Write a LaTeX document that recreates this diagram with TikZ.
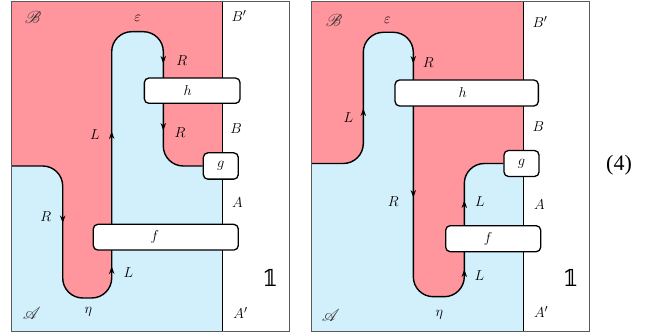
\documentclass[tikz,border=0pt]{standalone}
\usepackage{mathrsfs}
\usepackage{fontspec}
\newfontfamily\eqfont{Liberation Serif}
\newfontfamily\dvserif{DejaVu Serif}
\usetikzlibrary{arrows.meta,backgrounds}
\definecolor{pinkreg}{RGB}{255,150,158}
\definecolor{bluereg}{RGB}{210,240,252}
\definecolor{framegray}{RGB}{90,90,90}
\begin{document}
\begin{tikzpicture}[x=1pt,y=-1pt,
  wire/.style={line width=1.4pt, black},
  boxnode/.style={draw, fill=white, line width=1.3pt, rounded corners=4.5pt, inner sep=0pt},
  lbl/.style={font=\fontsize{15.5}{17}\selectfont, inner sep=0pt},
  scr/.style={font=\fontsize{17}{19}\selectfont, inner sep=0pt, text=black!80},
  unit/.style={font=\dvserif\fontsize{23}{25}\selectfont, inner sep=0pt},
  tipmark/.style={wire, -{Stealth[length=7.5pt,width=5.5pt]}},
  frame/.style={draw=framegray, line width=0.8pt},
  rc/.style={rounded corners=20pt}
]
\useasboundingbox (0,0) rectangle (672,336);

% ---------------- left diagram: boxes ----------------
\node[boxnode, minimum width=95.7pt, minimum height=25.3pt,
      label={[lbl,xshift=-4.5pt]center:$h$}] (h1) at (192.2,90.7) {};
\node[boxnode, minimum width=35pt, minimum height=26.3pt,
      label={[lbl]center:$g$}] (g1) at (220.8,166) {};
\node[boxnode, minimum width=145pt, minimum height=25.7pt,
      label={[lbl,xshift=-11pt]center:$f$}] (f1) at (165.8,237.2) {};

\coordinate (t1) at (222.7,1.5);
\coordinate (b1) at (222.7,331);

\begin{scope}[on background layer]
  \fill[bluereg] (11.7,1.5) rectangle (b1);
  \begin{scope}
    \clip (11.7,1.5) rectangle (b1);
    \fill[pinkreg, rc] (-40,-40) -- (260,-40) -- (260,166) -- (g1.west) -- (163.3,166)
       -- (163.3,31.7) -- (111.7,31.7) -- (111.7,298) -- (62.7,298) -- (62.7,166)
       -- (-40,166) -- cycle;
  \end{scope}
  \draw[wire] (t1) -- (b1);
  \draw[wire, rc] (g1.west) -- (163.3,166) -- (163.3,31.7) -- (111.7,31.7)
     -- (111.7,298) -- (62.7,298) -- (62.7,166) -- (11.7,166);
  \draw[tipmark] (62.7,214) -- (62.7,223);
  \draw[tipmark] (111.7,141) -- (111.7,131.5);
  \draw[tipmark] (111.7,276) -- (111.7,266.5);
  \draw[tipmark] (163.3,54) -- (163.3,63.5);
  \draw[tipmark] (163.3,121) -- (163.3,130.5);
  \draw[frame] (11.7,1.5) rectangle (289,331);
\end{scope}

\node[scr] (lB1) at (33,17) {$\mathscr{B}$};
\node[scr] (lA1) at (31.7,313) {$\mathscr{A}$};
\node[lbl] (leps1) at (137.7,18) {$\varepsilon$};
\node[lbl] (leta1) at (88.3,312) {$\eta$};
\node[lbl] (lR1a) at (181.7,60.7) {$R$};
\node[lbl] (lR1b) at (180,133) {$R$};
\node[lbl] (lR1c) at (45.7,216.7) {$R$};
\node[lbl] (lL1a) at (95,135) {$L$};
\node[lbl] (lL1b) at (128.3,272.7) {$L$};
\node[lbl] (lBp1) at (239,16) {$B'$};
\node[lbl] (lBb1) at (236,129) {$B$};
\node[lbl] (lAa1) at (237.3,202.7) {$A$};
\node[lbl] (lAp1) at (240.5,313) {$A'$};
\node[unit] (one1) at (270,278) {𝟙};

% ---------------- right diagram: boxes ----------------
\node[boxnode, minimum width=143.3pt, minimum height=26pt,
      label={[lbl,xshift=-4pt]center:$h$}] (h2) at (466.7,93) {};
\node[boxnode, minimum width=35pt, minimum height=26pt,
      label={[lbl]center:$g$}] (g2) at (521.5,163.5) {};
\node[boxnode, minimum width=95pt, minimum height=26pt,
      label={[lbl,xshift=-5pt]center:$f$}] (f2) at (493.2,238.7) {};

\coordinate (t2) at (523.3,1.5);
\coordinate (b2) at (523.3,331);

\begin{scope}[on background layer]
  \fill[bluereg] (311.7,1.5) rectangle (b2);
  \begin{scope}
    \clip (311.7,1.5) rectangle (b2);
    \fill[pinkreg, rc] (270,-40) -- (560,-40) -- (560,163.5) -- (g2.west) -- (464.3,163.5)
       -- (464.3,296.7) -- (413.3,296.7) -- (413.3,32.3) -- (363.3,32.3) -- (363.3,163.5)
       -- (270,163.5) -- cycle;
  \end{scope}
  \draw[wire] (t2) -- (b2);
  \draw[wire, rc] (g2.west) -- (464.3,163.5) -- (464.3,296.7) -- (413.3,296.7)
     -- (413.3,32.3) -- (363.3,32.3) -- (363.3,163.5) -- (311.7,163.5);
  \draw[tipmark] (363.3,118) -- (363.3,108.5);
  \draw[tipmark] (413.3,54) -- (413.3,63.5);
  \draw[tipmark] (413.3,188) -- (413.3,197.5);
  \draw[tipmark] (464.3,210) -- (464.3,200.5);
  \draw[tipmark] (464.3,279) -- (464.3,269.5);
  \draw[frame] (311.7,1.5) rectangle (589.3,331);
\end{scope}

\node[scr] (lB2) at (334,20) {$\mathscr{B}$};
\node[scr] (lA2) at (330.7,315.7) {$\mathscr{A}$};
\node[lbl] (leps2) at (387.3,20.7) {$\varepsilon$};
\node[lbl] (leta2) at (439.3,315) {$\eta$};
\node[lbl] (lR2a) at (428.3,62.7) {$R$};
\node[lbl] (lR2b) at (393.3,201.7) {$R$};
\node[lbl] (lL2a) at (348.3,117.3) {$L$};
\node[lbl] (lL2b) at (480,201.7) {$L$};
\node[lbl] (lL2c) at (479.3,276) {$L$};
\node[lbl] (lBp2) at (540,21.7) {$B'$};
\node[lbl] (lBb2) at (538.3,126.7) {$B$};
\node[lbl] (lAa2) at (539.3,204.3) {$A$};
\node[lbl] (lAp2) at (541.2,312.3) {$A'$};
\node[unit] (one2) at (570.7,278.3) {𝟙};

\node[font=\eqfont\fontsize{22}{24}\selectfont, inner sep=0pt] (eqno) at (619,165) {(4)};
\end{tikzpicture}
\end{document}
